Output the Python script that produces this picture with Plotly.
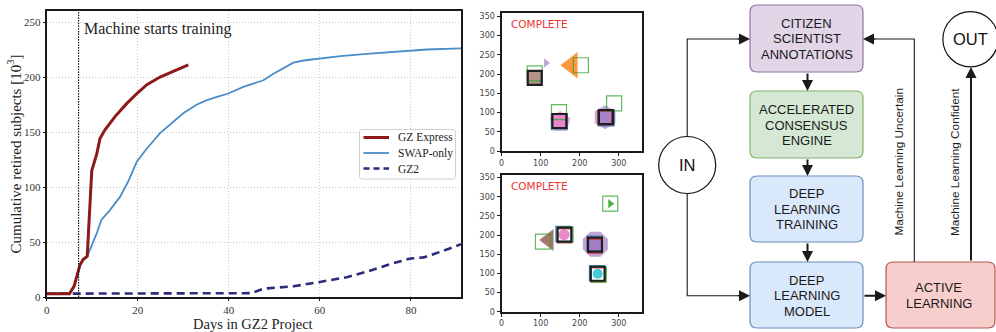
import plotly.graph_objects as go

# ---------------- data: main panel ----------------
gzx_days = [0, 5, 6, 6.7, 7.3, 8, 8.9, 9.9, 11, 11.7, 12.8, 15, 17.6, 19.8, 22, 24.9, 27.8, 31.1]
gzx_vals = [3, 3, 9.7, 21, 29, 34, 37, 115, 130, 144, 152, 164, 176, 185, 193, 200, 205, 211]

swap_days = [0, 5, 6, 6.7, 7.3, 8, 8.9, 9.9, 11, 12, 13.9, 16.1, 17.9, 19.8, 22, 24.9, 27.5, 30,
             33, 35.2, 37.4, 39.9, 43.2, 47.6, 49.8, 52, 54.2, 56.4, 60, 64.5, 70.3, 77.7, 83.5, 91]
swap_vals = [3, 3, 9.7, 21, 29, 34, 37, 47, 58, 70, 79, 91, 105, 123, 135, 149, 158, 167,
             175, 179, 182, 185, 191, 197, 203, 208, 213, 215, 217, 219, 221, 223, 225, 226]

gz2_days = [0, 45, 47.6, 54.2, 60, 65.9, 70.3, 75.5, 79.9, 82.8, 86.4, 91]
gz2_vals = [3, 3.5, 7.6, 9.7, 13.7, 18, 23, 30, 35, 36, 41, 48]

series_names = ["GZ Express", "SWAP-only", "GZ2"]

main_xticks = [0, 20, 40, 60, 80]
main_yticks = [0, 50, 100, 150, 200, 250]
train_start_day = 7

# ---------------- data: image annotation panels ----------------
a_cons_x = [85, 148, 267]
a_cons_y = [190, 78, 88]
a_green_x = [85, 147, 288, 203]
a_green_y = [202, 101, 124, 223]
a_red_x = [85, 264]
a_red_y = [190, 86]
a_blue_x = [148, 268]
a_blue_y = [76, 86]
a_brown_x = [85]
a_brown_y = [190]
a_pink_x = [150]
a_pink_y = [76]
a_pinksq_x = [148]
a_pinksq_y = [77]
a_purple_x = [265]
a_purple_y = [88]
a_purplesq_x = [267]
a_purplesq_y = [88]
a_orange_x = [180]
a_orange_y = [223]
a_ptri_x = [114]
a_ptri_y = [229]

b_cons_x = [161, 239, 246]
b_cons_y = [201, 175, 99]
b_green_x = [278, 106, 164, 249]
b_green_y = [282, 183, 201, 97]
b_red_x = [161, 239, 246]
b_red_y = [198, 171, 96]
b_blue_x = [158, 238, 244]
b_blue_y = [203, 178, 101]
b_pink_x = [160]
b_pink_y = [201]
b_purple_x = [240]
b_purple_y = [176]
b_purplesq_x = [239]
b_purplesq_y = [175]
b_cyan_x = [246]
b_cyan_y = [99]
b_brown_x = [121]
b_brown_y = [187]
b_gtri_x = [278]
b_gtri_y = [282]

img_xticks = [0, 100, 200, 300]
img_yticks = [0, 50, 100, 150, 200, 250, 300, 350]

W, H = 996, 332


def fx(p):
    return p / W


def fy(p):
    return 1 - p / H


fig = go.Figure()

# ---------------- main chart ----------------
SERIF = "Liberation Serif, Times New Roman, serif"
C_GZX, C_SWAP, C_GZ2 = "#8c1a1a", "#4a8cc6", "#2b2b7c"
fig.add_trace(go.Scatter(x=gz2_days, y=gz2_vals, mode="lines", name=series_names[2],
                         line=dict(color=C_GZ2, width=2.6, dash="8px,5px"),
                         showlegend=False, xaxis="x", yaxis="y"))
fig.add_trace(go.Scatter(x=swap_days, y=swap_vals, mode="lines", name=series_names[1],
                         line=dict(color=C_SWAP, width=1.8),
                         showlegend=False, xaxis="x", yaxis="y"))
fig.add_trace(go.Scatter(x=gzx_days, y=gzx_vals, mode="lines", name=series_names[0],
                         line=dict(color=C_GZX, width=3),
                         showlegend=False, xaxis="x", yaxis="y"))


def add_markers(xs, ys, ax, symbol, size, color=None, line_width=0):
    if symbol.endswith("-open"):
        marker = dict(symbol=symbol, size=size, color=color, line=dict(color=color, width=line_width))
    else:
        marker = dict(symbol=symbol, size=size, color=color, line=dict(width=0))
    fig.add_trace(go.Scatter(x=xs, y=ys, mode="markers", marker=marker, showlegend=False,
                             hoverinfo="skip", xaxis="x" + ax, yaxis="y" + ax))


GREEN = "rgba(44,160,44,0.75)"
RED = "rgba(214,39,40,0.85)"
BLUE = "rgba(31,119,180,0.8)"
BLACK = "#1e1e1e"

# panel A (top)
add_markers(a_purple_x, a_purple_y, "2", "hexagon", 24, "rgba(148,103,189,0.55)")
add_markers(a_pink_x, a_pink_y, "2", "pentagon", 22, "rgba(227,119,194,0.6)")
add_markers(a_pinksq_x, a_pinksq_y, "2", "square", 13, "rgba(227,119,194,0.7)")
add_markers(a_purplesq_x, a_purplesq_y, "2", "square", 13, "rgba(148,103,189,0.6)")
add_markers(a_brown_x, a_brown_y, "2", "square", 13, "rgba(140,86,75,0.65)")
add_markers(a_orange_x, a_orange_y, "2", "triangle-left", 23, "rgba(255,127,14,0.8)")
add_markers(a_ptri_x, a_ptri_y, "2", "triangle-right", 8, "rgba(148,103,189,0.6)")
add_markers(a_blue_x, a_blue_y, "2", "square-open", 16, BLUE, 1.2)
add_markers(a_red_x, a_red_y, "2", "square-open", 14, RED, 1.2)
add_markers(a_green_x, a_green_y, "2", "square-open", 15, GREEN, 1.2)
add_markers(a_cons_x, a_cons_y, "2", "square-open", 14, BLACK, 2.2)

# panel B (bottom)
add_markers(b_purple_x, b_purple_y, "3", "octagon", 27, "rgba(148,103,189,0.6)")
add_markers(b_purplesq_x, b_purplesq_y, "3", "square", 13, "rgba(148,103,189,0.65)")
add_markers(b_brown_x, b_brown_y, "3", "triangle-left", 19, "rgba(140,86,75,0.8)")
add_markers(b_pink_x, b_pink_y, "3", "circle", 11, "rgba(227,119,194,0.85)")
add_markers(b_cyan_x, b_cyan_y, "3", "circle", 10, "rgba(23,190,207,0.8)")
add_markers(b_gtri_x, b_gtri_y, "3", "triangle-right", 8, "rgba(44,160,44,0.85)")
add_markers(b_blue_x, b_blue_y, "3", "square-open", 15, BLUE, 1.2)
add_markers(b_red_x, b_red_y, "3", "square-open", 14, RED, 1.2)
add_markers(b_green_x, b_green_y, "3", "square-open", 15, GREEN, 1.2)
add_markers(b_cons_x, b_cons_y, "3", "square-open", 14, BLACK, 2.2)

# ---------------- layout / axes ----------------
main_axis_common = dict(showline=True, mirror=True, linewidth=2, linecolor="#1a1a1a",
                        ticks="outside", ticklen=2, tickcolor="#1a1a1a", zeroline=False,
                        showgrid=True, gridcolor="#c8c8c8", griddash="1px,2px", gridwidth=1,
                        tickfont=dict(family=SERIF, size=11, color="#333"), automargin=False)
SANS = "DejaVu Sans, sans-serif"
img_axis_common = dict(showline=True, mirror=True, linewidth=2, linecolor="#1a1a1a",
                       ticks="outside", ticklen=3, tickcolor="#1a1a1a", zeroline=False,
                       showgrid=False, range=[0, 358],
                       tickfont=dict(family=SANS, size=8, color="#444"), automargin=False)

fig.update_layout(
    width=W, height=H, margin=dict(l=0, r=0, t=0, b=0),
    paper_bgcolor="white", plot_bgcolor="white", showlegend=False,
    xaxis=dict(domain=[fx(46.7), fx(461)], range=[0, 91], tickvals=main_xticks, **main_axis_common),
    yaxis=dict(domain=[fy(297), fy(11)], range=[0, 260], tickvals=main_yticks, **main_axis_common),
    xaxis2=dict(domain=[fx(501.5), fx(641.5)], tickvals=img_xticks, anchor="y2", **img_axis_common),
    yaxis2=dict(domain=[fy(151), fy(13.3)], tickvals=img_yticks, anchor="x2", **img_axis_common),
    xaxis3=dict(domain=[fx(501.5), fx(641.5)], tickvals=img_xticks, anchor="y3", **img_axis_common),
    yaxis3=dict(domain=[fy(311.7), fy(174.5)], tickvals=img_yticks, anchor="x3", **img_axis_common),
)

shapes = []
annotations = []

# axis titles
annotations.append(dict(text="Days in GZ2 Project", xref="paper", yref="paper", x=fx(253), y=fy(323.5),
                        xanchor="center", yanchor="middle", showarrow=False,
                        font=dict(family=SERIF, size=14.5, color="#222")))
annotations.append(dict(text="Cumulative retired subjects [10<sup>3</sup>]", xref="paper", yref="paper",
                        x=fx(14.5), y=fy(154), textangle=-90, xanchor="center", yanchor="middle",
                        showarrow=False, font=dict(family=SERIF, size=15, color="#222")))

# vertical dotted line in main chart
shapes.append(dict(type="line", xref="x", yref="y domain", x0=train_start_day, x1=train_start_day,
                   y0=0, y1=1, line=dict(color="#111", width=1.2, dash="1.5px,1.2px")))
annotations.append(dict(text="Machine starts training", xref="x", yref="y", x=7.8, y=244,
                        xanchor="left", yanchor="middle", showarrow=False,
                        font=dict(family=SERIF, size=16, color="#222")))


def rrect(x0, y0, x1, y1, r, fill, border, width=1.2):
    p = (f"M {fx(x0 + r)},{fy(y0)} L {fx(x1 - r)},{fy(y0)} Q {fx(x1)},{fy(y0)} {fx(x1)},{fy(y0 + r)} "
         f"L {fx(x1)},{fy(y1 - r)} Q {fx(x1)},{fy(y1)} {fx(x1 - r)},{fy(y1)} "
         f"L {fx(x0 + r)},{fy(y1)} Q {fx(x0)},{fy(y1)} {fx(x0)},{fy(y1 - r)} "
         f"L {fx(x0)},{fy(y0 + r)} Q {fx(x0)},{fy(y0)} {fx(x0 + r)},{fy(y0)} Z")
    shapes.append(dict(type="path", xref="paper", yref="paper", path=p, fillcolor=fill,
                       line=dict(color=border, width=width), layer="above"))


# legend (drawn manually to match matplotlib's compact legend)
rrect(359.5, 129.5, 455.5, 179, 2.5, "rgba(255,255,255,0.9)", "#d0d0d0", 1)
legend_styles = [(C_GZX, 3, "solid"), (C_SWAP, 1.8, "solid"), (C_GZ2, 2.6, "6px,4px")]
for i, (name, (col, w, d)) in enumerate(zip(series_names, legend_styles)):
    yy = 137.5 + i * 15.5
    shapes.append(dict(type="line", xref="paper", yref="paper", x0=fx(363.5), x1=fx(389),
                       y0=fy(yy), y1=fy(yy), line=dict(color=col, width=w, dash=d), layer="above"))
    annotations.append(dict(text=name, xref="paper", yref="paper", x=fx(396), y=fy(yy),
                            xanchor="left", yanchor="middle", showarrow=False,
                            font=dict(family=SERIF, size=11.5, color="#222")))

# COMPLETE labels
for py in (24.3, 186):
    annotations.append(dict(text="COMPLETE", xref="paper", yref="paper", x=fx(508.5), y=fy(py),
                            xanchor="left", yanchor="middle", showarrow=False,
                            font=dict(family=SANS, size=10.5, color="#f03232")))

# ---------------- flowchart ----------------
FLOW = "Liberation Sans, Arial, sans-serif"

boxes = [
    ((750, 5, 863, 72), "#e1d5e7", "#9673a6", ["CITIZEN", "SCIENTIST", "ANNOTATIONS"], 806.5, 38.9),
    ((750, 91, 863, 158), "#d5e8d4", "#82b366", ["ACCELERATED", "CONSENSUS", "ENGINE"], 806.5, 125),
    ((750, 176, 863, 242), "#dae8fc", "#6c8ebf", ["DEEP", "LEARNING", "TRAINING"], 806.5, 209.3),
    ((750, 262, 863, 328), "#dae8fc", "#6c8ebf", ["DEEP", "LEARNING", "MODEL"], 806.5, 295.5),
    ((886, 262, 995, 328), "#f8cecc", "#b85450", ["ACTIVE", "LEARNING"], 938.5, 295.7),
]
for (x0, y0, x1, y1), fill, border, lines, cx, cy in boxes:
    rrect(x0, y0, x1, y1, 7, fill, border)
    n = len(lines)
    for i, t in enumerate(lines):
        yy = cy + (i - (n - 1) / 2) * 15.5
        annotations.append(dict(text=t, xref="paper", yref="paper", x=fx(cx), y=fy(yy),
                                xanchor="center", yanchor="middle", showarrow=False,
                                font=dict(family=FLOW, size=13, color="#1a1a1a")))

# circles
for cx, cy, r, t in [(687.2, 165, 28.5, "IN"), (970.5, 39.2, 27.6, "OUT")]:
    shapes.append(dict(type="circle", xref="paper", yref="paper", x0=fx(cx - r), x1=fx(cx + r),
                       y0=fy(cy + r), y1=fy(cy - r), fillcolor="white",
                       line=dict(color="#111", width=1.2)))
    annotations.append(dict(text=t, xref="paper", yref="paper", x=fx(cx), y=fy(cy),
                            xanchor="center", yanchor="middle", showarrow=False,
                            font=dict(family=FLOW, size=16.5, color="#111")))


def polyline(pts, width):
    p = "M " + " L ".join(f"{fx(a)},{fy(b)}" for a, b in pts)
    shapes.append(dict(type="path", xref="paper", yref="paper", path=p,
                       fillcolor="rgba(0,0,0,0)", line=dict(color="#1a1a1a", width=width)))


def arrow(hx, hy, dx, dy, width, size):
    annotations.append(dict(text="", xref="paper", yref="paper", x=fx(hx), y=fy(hy),
                            ax=dx, ay=dy, showarrow=True, arrowhead=2, arrowsize=size,
                            arrowwidth=width, arrowcolor="#1a1a1a", standoff=0, startstandoff=0))


# IN -> citizen, IN -> model (thin)
polyline([(687.2, 136.5), (687.2, 39), (740, 39)], 1.1)
arrow(750, 39, -14, 0, 1.1, 2.0)
polyline([(687.2, 193.5), (687.2, 295.7), (740, 295.7)], 1.1)
arrow(750, 295.7, -14, 0, 1.1, 2.0)
# box to box (thick)
arrow(807.5, 91, 0, -19, 2, 1.1)
arrow(807.5, 176, 0, -18, 2, 1.1)
arrow(807.5, 262, 0, -20, 2, 1.1)
arrow(886, 295.7, -23, 0, 2, 1.1)
# active -> citizen (uncertain), thin
polyline([(914.3, 262), (914.3, 39), (873, 39)], 1.1)
arrow(863, 39, 14, 0, 1.1, 2.0)
# active -> OUT (thick)
arrow(971, 67, 0, 195, 2, 1.1)

# rotated labels
annotations.append(dict(text="Machine Learning Uncertain", xref="paper", yref="paper",
                        x=fx(898.5), y=fy(162), textangle=-90, showarrow=False,
                        xanchor="center", yanchor="middle",
                        font=dict(family=FLOW, size=11.8, color="#1a1a1a")))
annotations.append(dict(text="Machine Learning Confident", xref="paper", yref="paper",
                        x=fx(955), y=fy(162), textangle=-90, showarrow=False,
                        xanchor="center", yanchor="middle",
                        font=dict(family=FLOW, size=11.8, color="#1a1a1a")))

fig.update_layout(shapes=shapes, annotations=annotations)
fig.write_html("out.html", config={"displayModeBar": False},
               post_script="document.body.style.margin='0px';document.body.style.overflow='hidden';")
